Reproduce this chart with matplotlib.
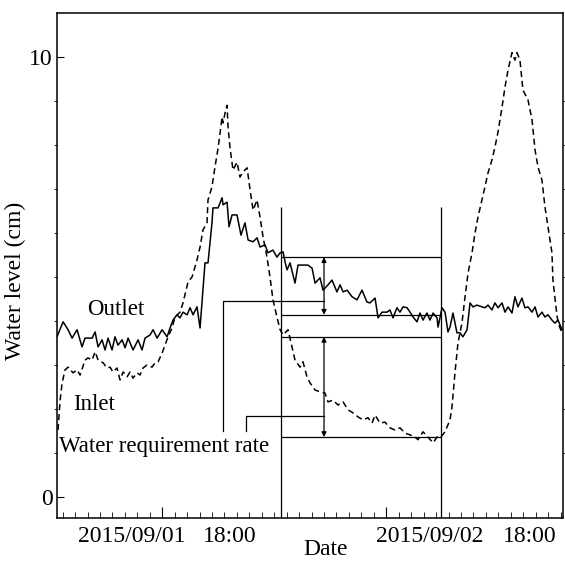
import matplotlib
matplotlib.use("Agg")
import matplotlib.pyplot as plt

plt.rcParams['font.family'] = ['Liberation Serif', 'DejaVu Serif']

# time axis in hours (hourly minor ticks), water level in cm
out_t = [-1.45, -0.96, -0.56, -0.24, 0.16, 0.56, 0.80, 1.37, 1.61, 1.85, 2.17, 2.41, 2.65, 2.97,
         3.21, 3.45, 3.78, 4.02, 4.26, 4.66, 5.06, 5.38, 5.62, 6.02, 6.27, 6.59, 6.99, 7.39, 7.63,
         7.87, 8.19, 8.43, 8.67, 9.00, 9.24, 9.48, 9.80, 10.04, 10.44, 10.68, 11.00, 11.08, 11.49,
         11.81, 11.89, 12.21, 12.37, 12.61, 13.01, 13.33, 13.65, 13.90, 14.30, 14.62, 14.86, 15.26,
         15.50, 15.90, 16.22, 16.47, 16.71, 16.87, 17.03, 17.27, 17.67, 17.91, 18.31, 18.71, 19.04,
         19.28, 19.68, 19.92, 20.32, 20.64, 21.04, 21.29, 21.53, 21.85, 22.25, 22.65, 23.05, 23.45,
         23.69, 24.10, 24.34, 24.66, 25.06, 25.30, 25.54, 25.86, 26.10, 26.35, 26.67, 26.91, 27.15,
         27.47, 27.71, 27.95, 28.27, 28.51, 28.76, 29.08, 29.16, 29.48, 29.72, 29.96, 30.12, 30.36,
         30.68, 30.92, 31.16, 31.49, 31.73, 31.97, 32.29, 32.69, 32.93, 33.17, 33.49, 33.73, 33.98,
         34.30, 34.54, 34.78, 35.10, 35.34, 35.58, 35.90, 36.14, 36.39, 36.71, 36.95, 37.19, 37.51,
         37.75, 37.99, 38.31, 38.55, 38.80, 39.12]
out_lvl = [3.64, 3.98, 3.80, 3.61, 3.80, 3.41, 3.61, 3.61, 3.75, 3.41, 3.57, 3.34, 3.61, 3.34,
           3.64, 3.45, 3.57, 3.39, 3.61, 3.34, 3.57, 3.34, 3.61, 3.68, 3.80, 3.61, 3.80, 3.64, 3.84,
           4.02, 4.14, 4.07, 4.20, 4.14, 4.30, 4.14, 4.32, 3.84, 5.32, 5.32, 6.23, 6.57, 6.57,
           6.80, 6.64, 6.70, 6.14, 6.41, 6.41, 5.95, 6.23, 5.84, 5.80, 5.89, 5.68, 5.73,
           5.55, 5.61, 5.45, 5.55, 5.57, 5.34, 5.16, 5.32, 4.86, 5.27, 5.27, 5.27, 5.20,
           4.86, 4.98, 4.70, 4.82, 4.93, 4.66, 4.82, 4.66, 4.70, 4.55, 4.48, 4.70, 4.43,
           4.41, 4.52, 4.07, 4.20, 4.20, 4.25, 4.07, 4.30, 4.20, 4.32, 4.30, 4.20, 4.09,
           3.98, 4.18, 4.02, 4.18, 4.02, 4.18, 4.07, 3.86, 4.30, 4.20, 3.75, 3.86, 4.18,
           3.73, 3.73, 3.64, 3.80, 4.41, 4.32, 4.36, 4.32, 4.30, 4.36, 4.25, 4.41, 4.30,
           4.41, 4.20, 4.32, 4.18, 4.55, 4.32, 4.52, 4.30, 4.32, 4.20, 4.32, 4.09, 4.20,
           4.09, 4.14, 4.02, 3.95, 4.02, 3.80]

in_t = [-1.37, -1.20, -1.04, -0.80, -0.56, -0.16, 0.16, 0.40, 0.80, 1.04, 1.37, 1.61, 1.85, 2.25,
        2.57, 2.81, 3.05, 3.37, 3.61, 3.86, 4.18, 4.42, 4.66, 4.98, 5.22, 5.46, 5.78, 6.18, 6.43,
        6.67, 6.99, 7.23, 7.47, 7.79, 8.03, 8.43, 8.67, 9.08, 9.40, 9.80, 10.04, 10.28, 10.60,
        10.68, 11.00, 11.24, 11.49, 11.65, 11.81, 11.89, 12.05, 12.21, 12.29, 12.45, 12.69, 13.01,
        13.25, 13.49, 13.82, 14.06, 14.30, 14.62, 14.86, 15.10, 15.42, 15.66, 15.90, 16.22, 16.47,
        16.71, 17.11, 17.43, 17.67, 18.07, 18.31, 18.63, 18.88, 19.28, 19.68, 20.08, 20.32, 20.72,
        21.12, 21.53, 21.93, 22.33, 22.73, 23.13, 23.53, 23.86, 24.10, 24.50, 24.90, 25.30, 25.70,
        26.10, 26.51, 26.91, 27.31, 27.55, 27.95, 28.35, 28.76, 29.08, 29.32, 29.72, 30.12, 30.28,
        30.52, 30.76, 31.08, 31.33, 31.57, 31.89, 32.13, 32.37, 32.69, 32.93, 33.17, 33.49, 33.73,
        33.98, 34.30, 34.54, 34.78, 35.10, 35.34, 35.50, 35.74, 35.98, 36.39, 36.71, 36.95, 37.19,
        37.51, 37.75, 37.99, 38.31, 38.39, 38.63, 38.80, 39.12]
in_lvl = [1.52, 2.20, 2.59, 2.89, 2.95, 2.82, 2.89, 2.77, 3.11, 3.16, 3.11, 3.30, 3.11, 3.05,
          2.93, 2.95, 2.84, 2.93, 2.66, 2.84, 2.73, 2.84, 2.70, 2.82, 2.77, 2.93, 3.00, 2.95, 3.05,
          3.07, 3.27, 3.45, 3.64, 3.84, 4.09, 4.20, 4.41, 4.89, 5.00, 5.39, 5.68, 6.07, 6.23,
          6.75, 7.05, 7.50, 7.93, 8.27, 8.64, 8.50, 8.73, 8.90, 8.41, 7.93, 7.43, 7.61,
          7.27, 7.39, 7.48, 6.98, 6.52, 6.75, 6.36, 5.91, 5.45, 5.00, 4.48, 4.09, 3.80,
          3.68, 3.80, 3.41, 3.11, 2.95, 3.07, 2.73, 2.59, 2.43, 2.39, 2.36, 2.16, 2.20,
          2.09, 2.16, 1.98, 1.91, 1.82, 1.75, 1.80, 1.68, 1.86, 1.68, 1.70, 1.57, 1.52,
          1.57, 1.45, 1.41, 1.36, 1.30, 1.48, 1.36, 1.23, 1.36, 1.34, 1.48, 1.75, 2.05,
          2.82, 3.50, 3.95, 4.55, 5.09, 5.55, 6.00, 6.36, 6.75, 7.05, 7.36, 7.66, 7.95,
          8.30, 8.86, 9.32, 9.70, 10.1, 9.93, 10.1, 9.93, 9.25, 9.02, 8.57, 7.89, 7.50,
          7.20, 6.59, 6.14, 5.55, 4.93, 4.32, 3.95, 3.73]

# analysis window and reference levels (cm)
window = [16.55, 29.40]
window_top = 6.59
out_levels = [5.45, 4.14]
in_levels = [3.64, 1.36]
arrow_t = 20.0
out_pointer = [11.89, 4.45]
in_pointer = [13.73, 1.84]
pointer_base = 1.5

date_pos = [4.58, 12.45, 28.5, 36.5]
date_labels = ['2015/09/01', '18:00', '2015/09/02', '18:00']
long_ticks = [7, 25]

fig = plt.figure(figsize=(5.65, 5.61), dpi=100)
ax = fig.add_axes([0.1009, 0.0766, 0.8956, 0.9002])

ax.plot(out_t, out_lvl, color='k', lw=1.1)
ax.plot(in_t, in_lvl, color='k', lw=1.1, ls=(0, (4, 2.5)))

ylo, yhi = -0.48, 11.0
ax.set_xlim(-1.45, 39.2)
ax.set_ylim(ylo, yhi)

# window lines
ax.vlines(window, ylo, window_top, color='k', lw=0.9)
ax.hlines(out_levels + in_levels, window[0], window[1], color='k', lw=0.9)
for a, b in [out_levels, in_levels]:
    ax.annotate('', xy=(arrow_t, b), xytext=(arrow_t, a),
                arrowprops=dict(arrowstyle='<|-|>', color='k', lw=0.9,
                                mutation_scale=7, shrinkA=0, shrinkB=0))

# pointers from the label to the arrows
for px, py in [out_pointer, in_pointer]:
    ax.plot([px, px, arrow_t], [pointer_base, py, py], color='k', lw=0.9)

ax.text(0.96, 4.25, 'Outlet', fontsize=16.5, va='center')
ax.text(-0.16, 2.11, 'Inlet', fontsize=16.5, va='center')
ax.text(-1.25, 1.14, 'Water requirement rate', fontsize=16.5, va='center')

# axes styling
ax.set_yticks([0, 10])
ax.set_yticks(range(0, 11), minor=True)
ax.tick_params(axis='y', which='major', direction='in', length=5, labelsize=17, pad=3)
ax.tick_params(axis='y', which='minor', direction='out', length=2, right=True)
ax.set_xticks(long_ticks)
ax.set_xticklabels([])
ax.set_xticks(range(-1, 40), minor=True)
ax.tick_params(axis='x', which='major', direction='in', length=8)
ax.tick_params(axis='x', which='minor', direction='in', length=4)
for s in ax.spines.values():
    s.set_linewidth(1.1)

sec = ax.secondary_xaxis('bottom')
sec.set_xticks(date_pos, date_labels)
sec.tick_params(length=0, labelsize=17, pad=6)
sec.spines['bottom'].set_visible(False)

ax.set_ylabel('Water level (cm)', fontsize=17)
ax.yaxis.set_label_coords(-0.062, 0.47)
ax.set_xlabel('Date', fontsize=17)
ax.xaxis.set_label_coords(0.53, -0.042)

fig.savefig('out.png', dpi=100)
